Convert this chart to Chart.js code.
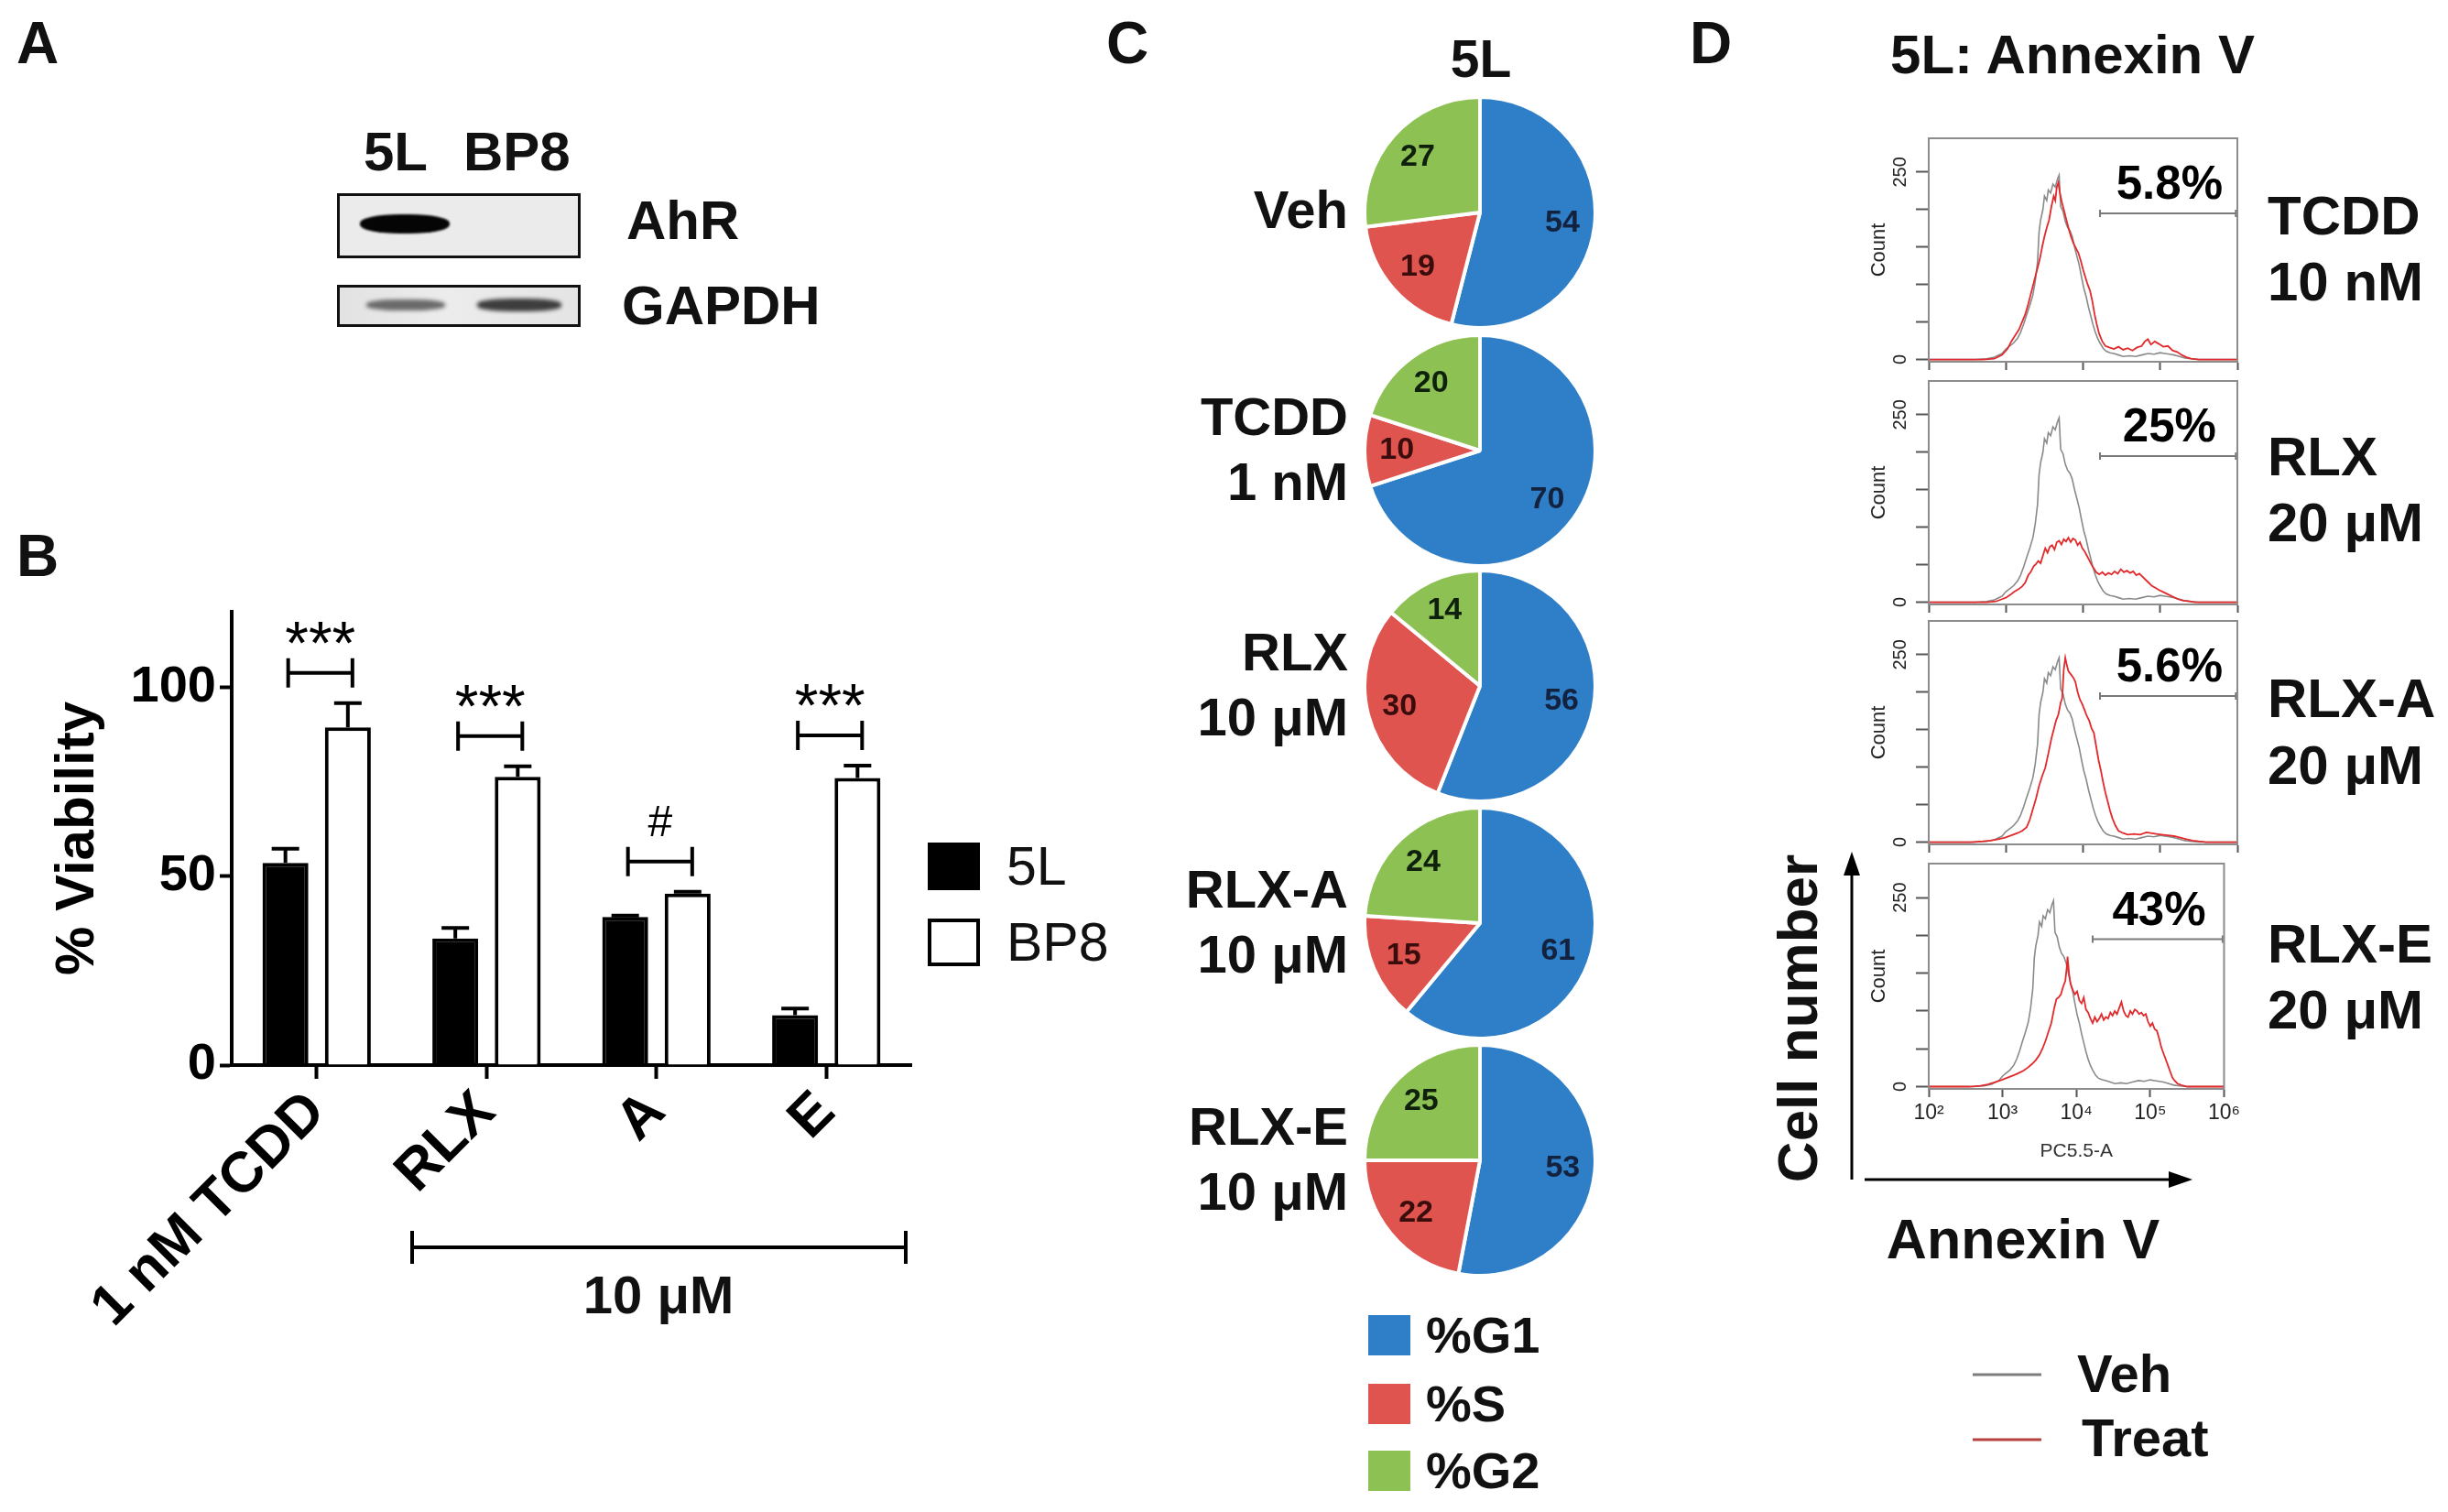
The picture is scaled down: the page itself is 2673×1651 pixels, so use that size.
<!DOCTYPE html>
<html><head><meta charset="utf-8">
<script src="https://cdn.jsdelivr.net/npm/chart.js@4.4.0/dist/chart.umd.min.js"></script>
<style>
html,body{margin:0;padding:0;background:#fff;}
body{width:2673px;height:1651px;position:relative;overflow:hidden;font-family:"Liberation Sans",Arial,sans-serif;}
.t{position:absolute;white-space:nowrap;color:#111;font-weight:bold;line-height:1;}
canvas{position:absolute;}
.blk{position:absolute;}
</style></head><body>
<script>
// ---------------- DATA ----------------
// Panel B: % viability
const viabilityCats = ['1 nM TCDD', 'RLX', 'A', 'E'];
const viab5L = [53.5, 33.5, 39.2, 13.2];
const viab5LErr = [3.8, 2.8, 0.4, 1.8];
const viabBP8 = [89.4, 76.3, 45.4, 76.0];
const viabBP8Err = [6.4, 2.8, 0.5, 3.3];
const sigMarks = ['***', '***', '#', '***'];
const seriesNamesB = ['5L', 'BP8'];

// Panel C: cell cycle (%)
const pieTitles = [['Veh'], ['TCDD', '1 nM'], ['RLX', '10 μM'], ['RLX-A', '10 μM'], ['RLX-E', '10 μM']];
const phaseLabels = ['%G1', '%S', '%G2'];
const pctG1 = [54, 70, 56, 61, 53];
const pctS = [19, 10, 30, 15, 22];
const pctG2 = [27, 20, 14, 24, 25];

// Panel D: Annexin V histograms (x = log10 of PC5.5-A, y = count)
const annexinTitles = [['TCDD', '10 nM'], ['RLX', '20 μM'], ['RLX-A', '20 μM'], ['RLX-E', '20 μM']];
const annexinPct = ['5.8%', '25%', '5.6%', '43%'];
const gateLogMin = 4.22, gateLogMax = 5.98, gateCount = 195;
const xTickExp = [2, 3, 4, 5, 6];
const yTickCounts = [0, 50, 100, 150, 200, 250];

const vehLogX = [2.0,2.6,2.75,2.85,2.95,3.0,3.05,3.1,3.15,3.19,3.23,3.27,3.31,3.35,3.38,3.41,3.43,3.45,3.48,3.5,3.53,3.55,3.58,3.61,3.64,3.67,3.69,3.71,3.74,3.77,3.8,3.83,3.86,3.89,3.92,3.95,3.98,4.01,4.04,4.07,4.1,4.13,4.16,4.19,4.22,4.26,4.3,4.35,4.4,4.46,4.52,4.6,4.68,4.76,4.84,4.92,5.0,5.06,5.12,5.18,5.25,5.32,5.4,5.5,6.0];
const vehCount = [0,0,1,3,8,14,18,22,28,36,47,60,72,86,104,130,170,186,200,218,212,226,222,234,230,241,246,204,198,184,176,172,164,150,138,126,110,95,84,70,58,46,36,28,22,15,11,9,8,6,4,5,4,6,8,7,9,8,7,6,4,2,1,0,0];

const tcddLogX = [2.0,2.7,2.85,2.95,3.02,3.07,3.12,3.17,3.21,3.25,3.29,3.32,3.36,3.4,3.44,3.47,3.5,3.53,3.56,3.59,3.62,3.64,3.66,3.68,3.7,3.73,3.76,3.79,3.82,3.85,3.88,3.91,3.94,3.97,4.0,4.03,4.06,4.09,4.12,4.15,4.18,4.21,4.25,4.29,4.34,4.4,4.46,4.52,4.58,4.64,4.7,4.76,4.8,4.84,4.88,4.93,4.98,5.04,5.1,5.16,5.22,5.28,5.34,5.4,5.5,6.0];
const tcddCount = [0,0,1,6,14,24,32,40,50,60,74,86,102,118,134,150,164,176,186,204,218,212,230,236,222,208,196,184,172,162,154,148,142,132,120,110,100,92,78,60,46,34,24,18,16,14,17,13,15,12,16,18,24,27,20,24,21,17,18,12,10,6,3,1,0,0];

const rlxLogX = [2.0,2.75,2.87,2.95,3.0,3.06,3.11,3.16,3.21,3.25,3.29,3.32,3.36,3.39,3.42,3.45,3.48,3.51,3.54,3.57,3.6,3.63,3.66,3.69,3.72,3.75,3.78,3.81,3.84,3.87,3.9,3.93,3.96,3.99,4.02,4.05,4.08,4.11,4.14,4.17,4.21,4.25,4.29,4.33,4.37,4.41,4.45,4.49,4.53,4.57,4.61,4.65,4.69,4.73,4.77,4.81,4.85,4.89,4.94,4.99,5.05,5.11,5.17,5.23,5.3,5.38,5.45,6.0];
const rlxCount = [0,0,1,4,6,10,14,17,21,26,36,40,48,51,55,52,62,72,66,74,76,70,80,82,77,84,81,86,80,85,83,76,80,72,68,62,56,50,45,40,37,40,36,39,37,41,38,44,40,42,39,41,36,38,34,30,26,22,19,16,13,10,7,4,2,1,0,0];

const rlxALogX = [2.0,2.55,2.7,2.8,2.9,2.99,3.07,3.15,3.21,3.27,3.31,3.35,3.39,3.43,3.47,3.51,3.55,3.59,3.62,3.65,3.68,3.71,3.73,3.75,3.77,3.79,3.81,3.84,3.87,3.9,3.93,3.96,3.99,4.02,4.05,4.08,4.11,4.14,4.17,4.2,4.23,4.26,4.29,4.32,4.35,4.38,4.42,4.46,4.52,4.58,4.66,4.74,4.82,4.88,4.95,5.02,5.1,5.18,5.26,5.34,5.42,5.5,5.6,6.0];
const rlxACount = [0,0,1,2,4,6,9,12,15,20,30,44,58,75,88,99,118,138,150,162,170,186,192,230,246,236,228,224,220,214,200,190,184,176,168,162,152,146,128,110,96,80,66,54,42,32,22,15,12,10,11,10,13,12,11,10,9,8,6,4,2,1,0,0];

const rlxELogX = [2.0,2.55,2.7,2.8,2.9,2.99,3.07,3.15,3.22,3.28,3.34,3.4,3.45,3.5,3.54,3.58,3.62,3.66,3.7,3.73,3.76,3.79,3.82,3.85,3.87,3.88,3.9,3.92,3.95,3.98,4.01,4.04,4.07,4.1,4.13,4.16,4.19,4.22,4.25,4.28,4.31,4.34,4.37,4.4,4.43,4.46,4.49,4.52,4.55,4.58,4.61,4.64,4.67,4.7,4.73,4.76,4.79,4.82,4.85,4.88,4.91,4.94,4.97,5.0,5.03,5.06,5.09,5.12,5.15,5.18,5.21,5.24,5.27,5.3,5.33,5.37,5.42,5.5,6.0];
const rlxECount = [0,0,1,3,6,9,12,15,18,21,25,30,35,42,50,60,72,84,104,116,118,122,132,140,158,172,150,136,128,122,126,114,110,118,102,98,90,84,92,86,90,96,88,92,90,98,94,100,96,104,112,100,94,92,100,96,102,100,96,98,94,96,86,80,84,76,74,64,52,44,36,28,20,12,8,4,2,0,0];

const treatLogX = [tcddLogX, rlxLogX, rlxALogX, rlxELogX];
const treatCount = [tcddCount, rlxCount, rlxACount, rlxECount];

// ---------------- LAYOUT / STYLE ----------------
const FF = '"Liberation Sans", Arial, sans-serif';
Chart.defaults.font.family = FF;
Chart.defaults.animation = false;
const BLUE = '#2f7ec8', RED = '#e05450', GREEN = '#8dc153';

function txt(str, x, y, size, opt) {
  opt = opt || {};
  const d = document.createElement('div');
  d.className = 't';
  d.textContent = str;
  d.style.fontSize = size + 'px';
  if (opt.weight) d.style.fontWeight = opt.weight;
  if (opt.color) d.style.color = opt.color;
  d.style.left = x + 'px';
  d.style.top = y + 'px';
  const ax = opt.align === 'right' ? '-100%' : (opt.align === 'center' ? '-50%' : '0');
  d.style.transform = 'translate(' + ax + ',-50%)';
  if (opt.rotate) { d.style.transform = 'translate(-50%,-50%) rotate(' + opt.rotate + 'deg)'; }
  document.body.appendChild(d);
  return d;
}
function box(x, y, w, h, css) {
  const d = document.createElement('div');
  d.className = 'blk';
  d.style.left = x + 'px'; d.style.top = y + 'px';
  d.style.width = w + 'px'; d.style.height = h + 'px';
  Object.assign(d.style, css || {});
  document.body.appendChild(d);
  return d;
}
function canvasAt(x, y, w, h) {
  const c = document.createElement('canvas');
  c.width = w; c.height = h;
  c.style.left = x + 'px'; c.style.top = y + 'px';
  c.style.width = w + 'px'; c.style.height = h + 'px';
  document.body.appendChild(c);
  return c;
}

// Panel letters
txt('A', 18, 47, 64);
txt('B', 18, 607, 64);
txt('C', 1208, 47, 64);
txt('D', 1845, 47, 64);

// ---------------- PANEL A (blot) ----------------
txt('5L', 397, 166, 60);
txt('BP8', 506, 166, 60);
txt('AhR', 684, 241, 60);
txt('GAPDH', 679, 334, 60);
box(368, 211, 266, 71, {border: '3px solid #111', background: '#ebebeb', boxSizing: 'border-box'});
box(393, 234, 98, 21, {background: '#050505', borderRadius: '45%', filter: 'blur(1.2px)'});
box(368, 311, 266, 46, {border: '3px solid #111', background: 'linear-gradient(90deg,#e2e2e2,#ececec 45%,#e4e4e4)', boxSizing: 'border-box'});
box(400, 327, 86, 12, {background: '#6a6a6a', borderRadius: '40%', filter: 'blur(2.2px)'});
box(521, 326, 92, 14, {background: '#3d3d3d', borderRadius: '40%', filter: 'blur(2.2px)'});

// ---------------- PANEL B ----------------
const errBarsPlugin = {
  id: 'errBars',
  afterDatasetsDraw(chart) {
    const ctx = chart.ctx, ys = chart.scales.y;
    const errs = [viab5LErr, viabBP8Err];
    const vals = [viab5L, viabBP8];
    ctx.save();
    ctx.strokeStyle = '#000'; ctx.lineWidth = 4; ctx.lineCap = 'butt';
    [0, 1].forEach(di => {
      const meta = chart.getDatasetMeta(di);
      meta.data.forEach((el, i) => {
        const top = ys.getPixelForValue(vals[di][i]);
        const et = ys.getPixelForValue(vals[di][i] + errs[di][i]);
        ctx.beginPath();
        ctx.moveTo(el.x, top); ctx.lineTo(el.x, et);
        ctx.moveTo(el.x - 15, et); ctx.lineTo(el.x + 15, et);
        ctx.stroke();
      });
    });
    const m0 = chart.getDatasetMeta(0), m1 = chart.getDatasetMeta(1);
    viabilityCats.forEach((c, i) => {
      const hi = Math.max(viab5L[i] + viab5LErr[i], viabBP8[i] + viabBP8Err[i]) + 8;
      const y = ys.getPixelForValue(hi);
      const x1 = m0.data[i].x + 3, x2 = m1.data[i].x + 5;
      ctx.beginPath();
      ctx.moveTo(x1, y); ctx.lineTo(x2, y);
      ctx.moveTo(x1, y - 16); ctx.lineTo(x1, y + 16);
      ctx.moveTo(x2, y - 16); ctx.lineTo(x2, y + 16);
      ctx.stroke();
      const s = sigMarks[i];
      ctx.font = (s === '#' ? '48px ' : '66px ') + FF;
      ctx.fillStyle = '#000';
      ctx.textAlign = 'center'; ctx.textBaseline = 'alphabetic';
      const mt = ctx.measureText(s);
      const cOff = (mt.actualBoundingBoxAscent - mt.actualBoundingBoxDescent) / 2;
      ctx.fillText(s, (x1 + x2) / 2, y - 44 + cOff);
    });
    ctx.restore();
  }
};

const cB = canvasAt(0, 600, 1010, 900);
new Chart(cB, {
  type: 'bar',
  data: {
    labels: viabilityCats,
    datasets: [
      {label: seriesNamesB[0], data: viab5L, backgroundColor: '#000', borderColor: '#000', borderWidth: 4, categoryPercentage: 0.735, barPercentage: 0.735},
      {label: seriesNamesB[1], data: viabBP8, backgroundColor: '#fff', borderColor: '#000', borderWidth: 4, categoryPercentage: 0.735, barPercentage: 0.735}
    ]
  },
  options: {
    responsive: false, animation: false, devicePixelRatio: 1,
    layout: {padding: {top: 68, right: 15, left: 0, bottom: 0}},
    plugins: {legend: {display: false}, tooltip: {enabled: false}},
    scales: {
      x: {
        offset: true,
        grid: {display: true, offset: false, drawOnChartArea: false, tickLength: 15, tickWidth: 4, tickColor: '#000'},
        border: {color: '#000', width: 4},
        ticks: {color: '#000', font: {size: 62, weight: 'bold'}, minRotation: 45, maxRotation: 45, padding: 0},
        afterFit(s) { s.height = 337; }
      },
      y: {
        min: 0, max: 120,
        ticks: {stepSize: 50, includeBounds: false, color: '#000', font: {size: 56, weight: 'bold'}, padding: 4},
        grid: {drawOnChartArea: false, tickLength: 13, tickWidth: 4, tickColor: '#000'},
        border: {color: '#000', width: 4},
        title: {display: true, text: '% Viability', color: '#000', font: {size: 60, weight: 'bold'}, padding: {top: 49, bottom: 0}},
        afterFit(s) { s.width = 253; }
      }
    }
  },
  plugins: [errBarsPlugin]
});
box(1013, 920, 57, 52, {background: '#000'});
box(1013, 1003, 57, 52, {background: '#fff', border: '4px solid #000', boxSizing: 'border-box'});
txt(seriesNamesB[0], 1099, 946, 59, {weight: 'normal'});
txt(seriesNamesB[1], 1099, 1029, 59, {weight: 'normal'});
box(448, 1360, 543, 4, {background: '#000'});
box(448, 1344, 4, 36, {background: '#000'});
box(987, 1344, 4, 36, {background: '#000'});
txt('10 μM', 719, 1414, 58, {align: 'center'});

// ---------------- PANEL C ----------------
txt('5L', 1617, 64, 57, {align: 'center'});
const pieCY = [232, 492, 749, 1008, 1267];
const pieLabelPlugin = {
  id: 'pieLabels',
  afterDatasetsDraw(chart) {
    const ctx = chart.ctx;
    const meta = chart.getDatasetMeta(0);
    const ds = chart.data.datasets[0].data;
    const cols = ['#13233f', '#3a0c0c', '#0f210c'];
    ctx.save();
    ctx.font = 'bold 34px ' + FF;
    ctx.textAlign = 'center'; ctx.textBaseline = 'middle';
    meta.data.forEach((arc, i) => {
      const mid = (arc.startAngle + arc.endAngle) / 2;
      const r = arc.outerRadius * 0.72;
      ctx.fillStyle = cols[i];
      ctx.fillText(String(ds[i]), arc.x + Math.cos(mid) * r, arc.y + Math.sin(mid) * r);
    });
    ctx.restore();
  }
};
pctG1.forEach((g, i) => {
  const c = canvasAt(1616 - 128, pieCY[i] - 128, 256, 256);
  new Chart(c, {
    type: 'pie',
    data: {labels: phaseLabels, datasets: [{data: [pctG1[i], pctS[i], pctG2[i]], backgroundColor: [BLUE, RED, GREEN], borderColor: '#fff', borderWidth: 4, hoverOffset: 0}]},
    options: {responsive: false, animation: false, devicePixelRatio: 1, plugins: {legend: {display: false}, tooltip: {enabled: false}}},
    plugins: [pieLabelPlugin]
  });
  const lines = pieTitles[i];
  if (lines.length === 1) txt(lines[0], 1472, pieCY[i] - 3, 58, {align: 'right'});
  else {
    txt(lines[0], 1472, pieCY[i] - 37, 58, {align: 'right'});
    txt(lines[1], 1472, pieCY[i] + 34, 58, {align: 'right'});
  }
});
[BLUE, RED, GREEN].forEach((col, i) => {
  const cy = [1458, 1533, 1606][i];
  box(1494, cy - 22, 46, 44, {background: col});
  txt(phaseLabels[i], 1557, cy, 56);
});

// ---------------- PANEL D ----------------
txt('5L: Annexin V', 2263, 60, 60, {align: 'center'});
const sup = {2: '²', 3: '³', 4: '⁴', 5: '⁵', 6: '⁶'};
const histTop = [145, 410, 672, 937];
const HB = 252;
const boxPlugin = {
  id: 'boxFrame',
  afterDraw(chart) {
    const a = chart.chartArea, ctx = chart.ctx;
    ctx.save(); ctx.strokeStyle = '#8c8c8c'; ctx.lineWidth = 2;
    ctx.strokeRect(a.left, a.top, a.right - a.left, a.bottom - a.top);
    ctx.restore();
  }
};
function gatePlugin(idx) {
  return {
    id: 'gate' + idx,
    afterDatasetsDraw(chart) {
      const ctx = chart.ctx, xs = chart.scales.x, ys = chart.scales.y;
      const x1 = xs.getPixelForValue(gateLogMin), x2 = xs.getPixelForValue(gateLogMax), y = ys.getPixelForValue(gateCount);
      ctx.save();
      ctx.strokeStyle = '#7a7a7a'; ctx.lineWidth = 2;
      ctx.beginPath();
      ctx.moveTo(x1, y); ctx.lineTo(x2, y);
      ctx.moveTo(x1, y - 4); ctx.lineTo(x1, y + 4);
      ctx.moveTo(x2, y - 4); ctx.lineTo(x2, y + 4);
      ctx.stroke();
      ctx.fillStyle = '#000';
      ctx.font = 'bold 51px ' + FF;
      ctx.textAlign = 'center'; ctx.textBaseline = 'middle';
      ctx.fillText(annexinPct[idx], xs.getPixelForValue(5.12), y - 30);
      ctx.restore();
    }
  };
}
histTop.forEach((T, i) => {
  const last = i === 3;
  const xh = last ? 81 : 10;
  const c = canvasAt(2039, T - 6, 411, 6 + HB + xh);
  new Chart(c, {
    type: 'line',
    data: {datasets: [
      {data: treatLogX[i].map((x, k) => ({x: x, y: treatCount[i][k]})), borderColor: '#e2292b', borderWidth: 1.8, pointRadius: 0, tension: 0},
      {data: vehLogX.map((x, k) => ({x: x, y: vehCount[k]})), borderColor: '#8a8a8a', borderWidth: 1.6, pointRadius: 0, tension: 0}
    ]},
    options: {
      responsive: false, animation: false, devicePixelRatio: 1,
      layout: {padding: {top: 6, right: 7, left: 0, bottom: 0}},
      plugins: {legend: {display: false}, tooltip: {enabled: false}},
      scales: {
        x: {
          type: 'linear', min: 2, max: 6,
          afterBuildTicks(s) { s.ticks = xTickExp.map(v => ({value: v})); },
          ticks: {autoSkip: false, callback: v => last ? '10' + sup[v] : '', font: {size: 23}, color: '#222', padding: 4, maxRotation: 0},
          grid: {drawOnChartArea: false, tickLength: 9, tickColor: '#555', tickWidth: 2},
          border: {color: '#8c8c8c', width: 2},
          title: {display: last, text: 'PC5.5-A', font: {size: 21}, color: '#333', padding: {top: 2, bottom: 0}},
          afterFit(s) { s.height = xh; }
        },
        y: {
          min: -3, max: 295,
          afterBuildTicks(s) { s.ticks = yTickCounts.map(v => ({value: v})); },
          ticks: {autoSkip: false, minRotation: 90, maxRotation: 90, crossAlign: 'center', callback: v => (v === 0 || v === 250) ? String(v) : '', font: {size: 20}, color: '#222', padding: 0},
          grid: {drawOnChartArea: false, tickLength: 14, tickColor: '#555', tickWidth: 2},
          border: {color: '#8c8c8c', width: 2},
          title: {display: true, text: 'Count', font: {size: 22}, color: '#222', padding: 0},
          afterFit(s) { s.width = 67; }
        }
      }
    },
    plugins: [boxPlugin, gatePlugin(i)]
  });
});
const dLabelY = [[236, 308], [499, 571], [763, 836], [1031, 1103]];
annexinTitles.forEach((t, i) => {
  txt(t[0], 2476, dLabelY[i][0], 60);
  txt(t[1], 2476, dLabelY[i][1], 60);
});
txt('Cell number', 1963, 1112, 62, {rotate: -90});
txt('Annexin V', 2209, 1353, 61, {align: 'center'});
const svgNS = 'http://www.w3.org/2000/svg';
const svg = document.createElementNS(svgNS, 'svg');
svg.setAttribute('width', 2673); svg.setAttribute('height', 1651);
svg.style.position = 'absolute'; svg.style.left = '0'; svg.style.top = '0';
svg.innerHTML = '<line x1="2022" y1="1288" x2="2022" y2="952" stroke="#000" stroke-width="3"/>' +
  '<polygon points="2022,930 2013,956 2031,956" fill="#000"/>' +
  '<line x1="2036" y1="1288" x2="2372" y2="1288" stroke="#000" stroke-width="3"/>' +
  '<polygon points="2394,1288 2368,1279 2368,1297" fill="#000"/>' +
  '<line x1="2154" y1="1501" x2="2229" y2="1501" stroke="#7d7d7d" stroke-width="3"/>' +
  '<line x1="2154" y1="1572" x2="2229" y2="1572" stroke="#b8403f" stroke-width="3"/>';
document.body.appendChild(svg);
txt('Veh', 2268, 1500, 58);
txt('Treat', 2273, 1570, 58);
</script>
</body></html>
